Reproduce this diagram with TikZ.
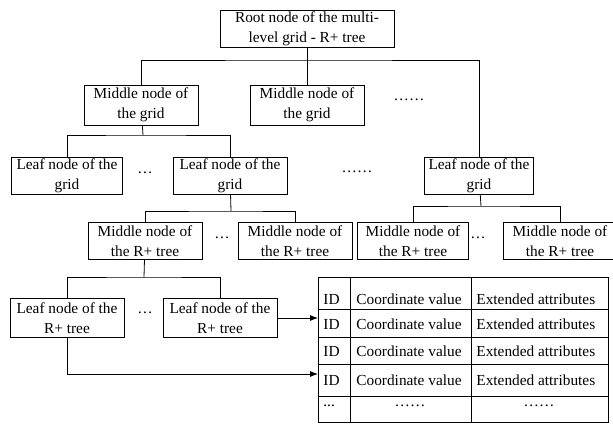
\documentclass[tikz,border=0pt]{standalone}
\usepackage{fontspec}
\setmainfont{Liberation Serif}
\usetikzlibrary{arrows.meta}

\begin{document}
\begin{tikzpicture}[x=0.75pt,y=-0.75pt,line width=0.6pt,
   treebox/.style={draw,align=center,inner sep=0pt,minimum width=85.5pt,minimum height=28pt},
   cell/.style={anchor=west,inner sep=0pt},
   arr/.style={-{Latex[length=6pt,width=4.5pt]}}]
         \fontsize{11.5}{15}\selectfont
         \useasboundingbox (0,0) rectangle (613,424);

         \node[treebox,minimum width=130.5pt] at (307,29) (root) {Root node of the multi-\\level grid - R+ tree};
         \node[treebox,minimum height=30pt] at (141,105) (mid1) {Middle node of\\the grid};
         \node[treebox,minimum height=30pt] at (307,105) (mid2) {Middle node of\\the grid};
         \node at (409,100) (dotsA) {\ldots\ldots};

         \node[treebox,minimum width=83pt] at (67,176) (leaf1) {Leaf node of the\\grid};
         \node at (145,173) (dotsB) {\ldots};
         \node[treebox] at (230,176) (leaf2) {Leaf node of the\\grid};
         \node at (357,172) (dotsC) {\ldots\ldots};
         \node[treebox,minimum width=82pt] at (479,176) (leaf3) {Leaf node of the\\grid};

         \node[treebox] at (145,241) (midR1) {Middle node of\\the R+ tree};
         \node at (222,238) (dotsD) {\ldots};
         \node[treebox] at (295,241) (midR2) {Middle node of\\the R+ tree};
         \node[treebox,minimum width=83pt] at (413,241) (midR3) {Middle node of\\the R+ tree};
         \node at (478,238) (dotsE) {\ldots};
         \node[treebox] at (560,241) (midR4) {Middle node of\\the R+ tree};

         \node[treebox,minimum height=29pt] at (67,318) (leafR1) {Leaf node of the\\R+ tree};
         \node at (145,313) (dotsF) {\ldots};
         \node[treebox,minimum height=29pt] at (220,318) (leafR2) {Leaf node of the\\R+ tree};

         \coordinate (rootbus) at (307,60);
         \coordinate (midbus) at (143,135);
         \coordinate (leafbus) at (231,211);
         \coordinate (leafbusB) at (481,206);
         \coordinate (rbus) at (144,277);

         \draw (root) -- (rootbus);
         \draw (mid1) |- (rootbus) -| (leaf3);
         \draw (rootbus) -- (mid2);
         \draw (mid1) -- (midbus);
         \draw (leaf1) |- (midbus) -| (leaf2);
         \draw (leaf2) -- (leafbus);
         \draw (midR1) |- (leafbus) -| (midR2);
         \draw (leaf3) -- (leafbusB);
         \draw (midR3) |- (leafbusB) -| (midR4);
         \draw (midR1) -- (rbus);
         \draw (leafR1) |- (rbus) -| (leafR2);

         \draw (318,277) rectangle (608,422);
         \draw (350,277) -- (350,422);
         \draw (471,277) -- (471,422);
         \foreach \y in {309,337,364,396}
            \draw (318,\y) -- (608,\y);
         \foreach \n/\y in {1/299,2/324,3/351,4/380} {
            \node[cell] at (323,\y) (id\n) {ID};
            \node[cell] at (356,\y) (coord\n) {Coordinate value};
            \node[cell] at (476,\y) (attr\n) {Extended attributes};
         }
         \node[cell] at (323,406) (id5) {...};
         \node at (410,406) (coord5) {\ldots\ldots};
         \node at (539,406) (attr5) {\ldots\ldots};

         \coordinate (row2) at (318,318);
         \coordinate (row4) at (318,374);
         \draw[arr] (leafR2) -- (row2);
         \draw[arr] (leafR1) |- (row4);
      \end{tikzpicture}
\end{document}
